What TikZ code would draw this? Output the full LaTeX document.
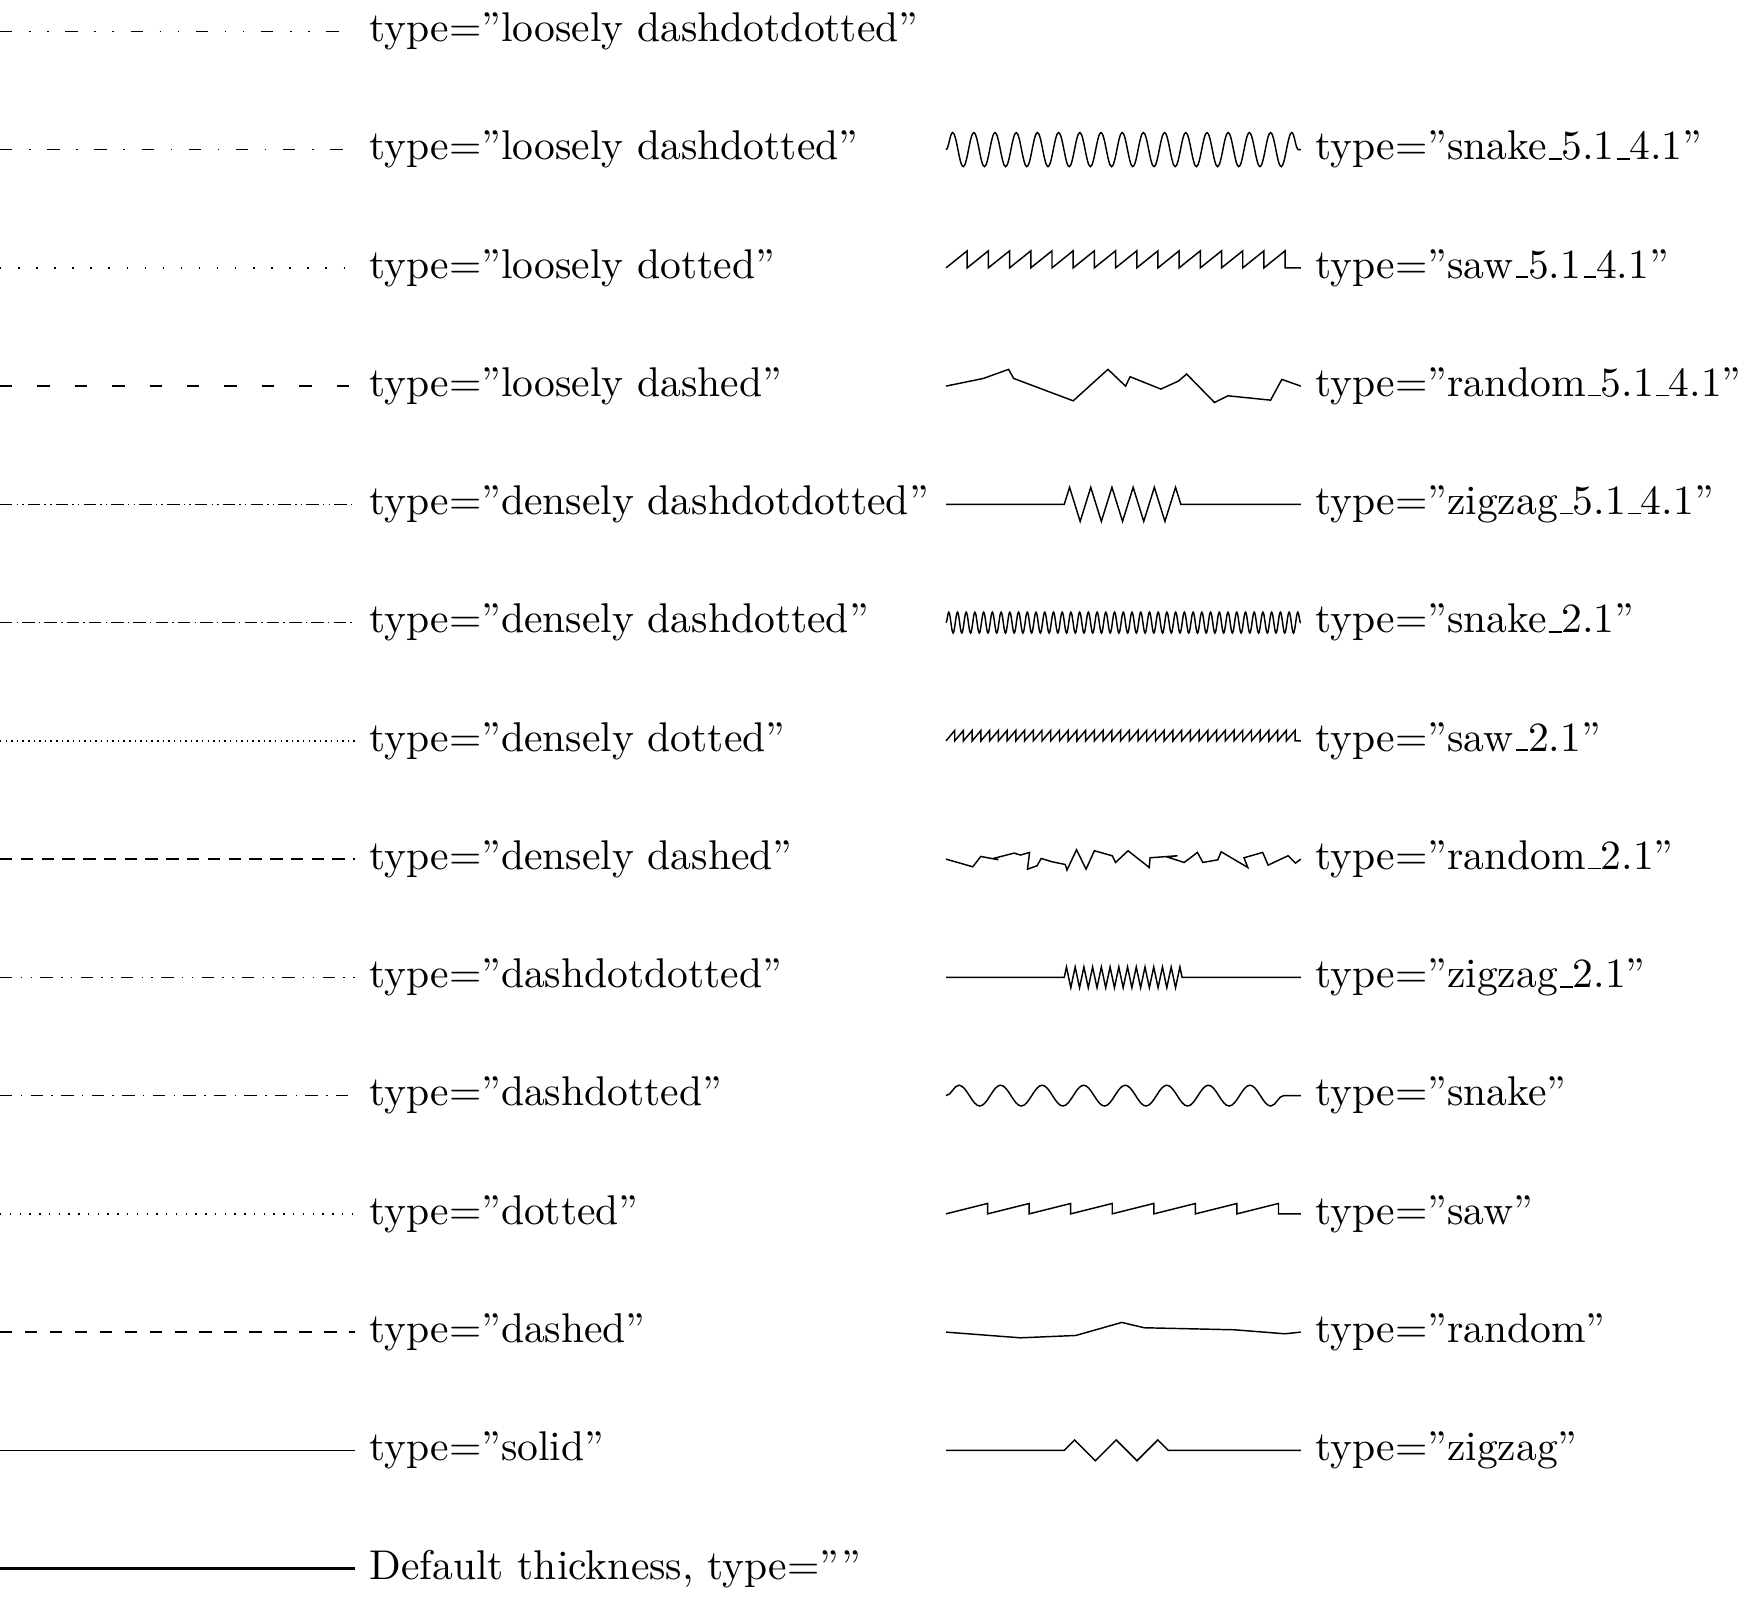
\documentclass[tikz,border=0pt]{standalone}
\usetikzlibrary{decorations.pathmorphing}
\newcommand\usc{\leavevmode\kern.06em\vbox{\hrule width.3em}}
\begin{document}
\begin{tikzpicture}[
  smp/.style={line width=0.35pt},
  deflt/.style={line width=0.6pt},
  lbl/.style={anchor=west, inner sep=3.33pt},
  snk/.style 2 args={smp, decorate, decoration={snake, segment length=#1, amplitude=#2}},
  sw/.style 2 args={smp, decorate, decoration={saw, segment length=#1, amplitude=#2}},
  zz/.style 2 args={smp, decorate, decoration={zigzag, segment length=#1, amplitude=#2, pre length=1cm, post length=1cm}},
  rnd/.style={smp, x=1pt, y=1pt, line join=miter}
]
\useasboundingbox (0,0.265) rectangle (14.85,-13.265);
\foreach \i in {0,...,13} {
  \coordinate (a\i) at (0,-\i);
  \coordinate (b\i) at (3,-\i);
}
\foreach \i in {1,...,12} {
  \coordinate (c\i) at (8,-\i);
  \coordinate (d\i) at (11,-\i);
}
% left column
\draw[smp, loosely dash dot dot] (a0) -- (b0);
\draw[smp, loosely dash dot] (a1) -- (b1);
\draw[smp, loosely dotted] (a2) -- (b2);
\draw[smp, loosely dashed] (a3) -- (b3);
\draw[smp, densely dash dot dot] (a4) -- (b4);
\draw[smp, densely dash dot] (a5) -- (b5);
\draw[smp, densely dotted] (a6) -- (b6);
\draw[smp, densely dashed] (a7) -- (b7);
\draw[smp, dash dot dot] (a8) -- (b8);
\draw[smp, dash dot] (a9) -- (b9);
\draw[smp, dotted] (a10) -- (b10);
\draw[smp, dashed] (a11) -- (b11);
\draw[smp, solid] (a12) -- (b12);
\draw[deflt] (a13) -- (b13);

\node[lbl] (t0) at (b0) {type=''loosely dashdotdotted''};
\node[lbl] (t1) at (b1) {type=''loosely dashdotted''};
\node[lbl] (t2) at (b2) {type=''loosely dotted''};
\node[lbl] (t3) at (b3) {type=''loosely dashed''};
\node[lbl] (t4) at (b4) {type=''densely dashdotdotted''};
\node[lbl] (t5) at (b5) {type=''densely dashdotted''};
\node[lbl] (t6) at (b6) {type=''densely dotted''};
\node[lbl] (t7) at (b7) {type=''densely dashed''};
\node[lbl] (t8) at (b8) {type=''dashdotdotted''};
\node[lbl] (t9) at (b9) {type=''dashdotted''};
\node[lbl] (t10) at (b10) {type=''dotted''};
\node[lbl] (t11) at (b11) {type=''dashed''};
\node[lbl] (t12) at (b12) {type=''solid''};
\node[lbl] (t13) at (b13) {Default thickness, type=''''};

% right column
\draw[snk={5.1pt}{4.1pt}] (c1) -- (d1);
\draw[sw={5.1pt}{4.1pt}] (c2) -- (d2);
\begin{scope}[shift={(c3)}]
\draw[rnd] (0,0) -- (9.0,1.85) -- (15.06,4.03) -- (16.26,1.85) -- (30.6,-3.54) -- (38.97,4.03) -- (43.2,0) -- (44.3,2.25) -- (51.7,-0.72) -- (55.9,1.2) -- (57.9,2.9) -- (64.6,-3.95) -- (67.8,-2.33) -- (78.1,-3.38) -- (80.8,1.61) -- (85.36,0);
\end{scope}
\draw[zz={5.1pt}{4.1pt}] (c4) -- (d4);
\draw[snk={2.1pt}{2.5pt}] (c5) -- (d5);
\draw[sw={2.1pt}{2.5pt}] (c6) -- (d6);
\begin{scope}[shift={(c7)}]
\draw[rnd] (0,0) -- (6.44,-1.85) -- (8.37,0.64) -- (12.6,-0.16) -- (11.4,0.16) -- (16.4,1.45) -- (17.9,0.97) -- (20.1,1.61) -- (19.6,-2.42) -- (21.9,-1.61) -- (22.9,0.16) -- (25.5,-0.64) -- (28.7,-1.29) -- (29.1,-2.66) -- (31.4,2.25) -- (33.7,-2.42) -- (35.7,2.01) -- (40.0,0.8) -- (40.8,-0.8) -- (43.8,2.01) -- (48.9,-2.01) -- (49.1,0.32) -- (55.7,0.81) -- (53.3,0.48) -- (57.3,-0.81) -- (60.5,1.61) -- (61.8,-0.81) -- (65.4,-0.16) -- (66.2,1.77) -- (72.6,-2.01) -- (71.7,0.32) -- (76.2,1.61) -- (77.5,-1.45) -- (82.3,0.81) -- (84.1,-0.97) -- (85.36,0);
\end{scope}
\draw[zz={2.1pt}{2.5pt}] (c8) -- (d8);
\draw[snk={10pt}{2.5pt}] (c9) -- (d9);
\draw[sw={10pt}{2.5pt}] (c10) -- (d10);
\begin{scope}[shift={(c11)}]
\draw[rnd] (0,0) -- (17.9,-1.37) -- (31.2,-0.81) -- (42.3,2.33) -- (47.7,1.05) -- (69.4,0.56) -- (81.5,-0.40) -- (85.36,0);
\end{scope}
\draw[zz={10pt}{2.5pt}] (c12) -- (d12);

\node[lbl] (r1) at (d1) {type=''snake\usc 5.1\usc 4.1''};
\node[lbl] (r2) at (d2) {type=''saw\usc 5.1\usc 4.1''};
\node[lbl] (r3) at (d3) {type=''random\usc 5.1\usc 4.1''};
\node[lbl] (r4) at (d4) {type=''zigzag\usc 5.1\usc 4.1''};
\node[lbl] (r5) at (d5) {type=''snake\usc 2.1''};
\node[lbl] (r6) at (d6) {type=''saw\usc 2.1''};
\node[lbl] (r7) at (d7) {type=''random\usc 2.1''};
\node[lbl] (r8) at (d8) {type=''zigzag\usc 2.1''};
\node[lbl] (r9) at (d9) {type=''snake''};
\node[lbl] (r10) at (d10) {type=''saw''};
\node[lbl] (r11) at (d11) {type=''random''};
\node[lbl] (r12) at (d12) {type=''zigzag''};
\end{tikzpicture}
\end{document}
